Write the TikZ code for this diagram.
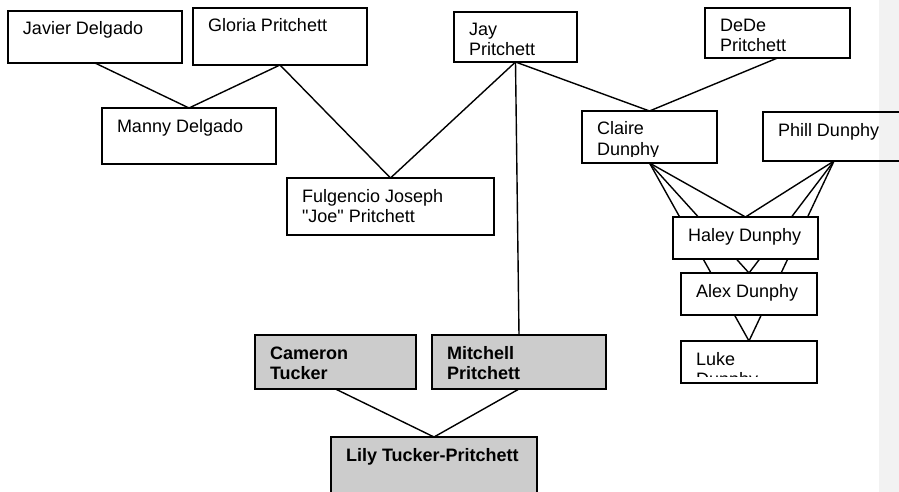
\documentclass[tikz,border=0pt]{standalone}
\usepackage{fontspec}
\setmainfont{Liberation Sans}[Ligatures=TeXOff]
\pgfdeclarelayer{bg}
\pgfsetlayers{bg,main}
\newcommand\pfont{\fontsize{18}{20}\selectfont}
\tikzset{
  person/.style={draw, line width=1.4pt, fill=white, inner sep=0pt, outer sep=0pt, anchor=north west},
  shaded/.style={fill=boxgrey},
  ptextline/.style={anchor=base west, inner sep=0pt, outer sep=0pt, minimum width=0pt, minimum height=0pt, draw=none, fill=none, font=\pfont, text=black},
  ptext/.style 2 args={path picture={
      \begin{scope}
        \clip ([yshift=6.5pt]path picture bounding box.south west) rectangle (path picture bounding box.north east);
        \node[ptextline] at ([xshift=15pt,yshift=-24pt]path picture bounding box.north west) {#1};
        \node[ptextline] at ([xshift=15pt,yshift=-44pt]path picture bounding box.north west) {#2};
      \end{scope}}},
  link/.style={line width=1.4pt, black},
}
\definecolor{boxgrey}{HTML}{CCCCCC}
\definecolor{panelgrey}{HTML}{F2F2F2}
\begin{document}
\begin{tikzpicture}[x=1pt, y=-1pt]
\useasboundingbox (0,0) rectangle (899,492);
% boxes
\node[person, minimum width=174pt, minimum height=52pt, ptext={Javier Delgado}{}] (javier) at (8,11) {};
\node[person, minimum width=174pt, minimum height=57pt, ptext={Gloria Pritchett}{}] (gloria) at (193,8) {};
\node[person, minimum width=123pt, minimum height=50pt, ptext={Jay}{Pritchett}] (jay) at (454,12) {};
\node[person, minimum width=145pt, minimum height=50pt, ptext={DeDe}{Pritchett}] (dede) at (705,8) {};
\node[person, minimum width=174pt, minimum height=56pt, ptext={Manny Delgado}{}] (manny) at (102,108) {};
\node[person, minimum width=135pt, minimum height=52pt, ptext={Claire}{Dunphy}] (claire) at (582,111) {};
\node[person, fill=none, minimum width=142pt, minimum height=49pt, ptext={Phill Dunphy}{}] (phill) at (763,112) {};
\node[person, minimum width=207pt, minimum height=57pt, ptext={Fulgencio Joseph}{"Joe" Pritchett}] (fulg) at (287,178) {};
\node[person, minimum width=145pt, minimum height=42pt, ptext={Haley Dunphy}{}] (haley) at (673,217) {};
\node[person, minimum width=136pt, minimum height=42pt, ptext={Alex Dunphy}{}] (alex) at (681,273) {};
\node[person, minimum width=136pt, minimum height=42pt, ptext={Luke}{Dunphy}] (luke) at (681,341) {};
\node[person, shaded, minimum width=161pt, minimum height=54pt, ptext={\bfseries Cameron}{\bfseries Tucker}] (cameron) at (255,335) {};
\node[person, shaded, minimum width=174pt, minimum height=54pt, ptext={\bfseries Mitchell}{\bfseries Pritchett}] (mitchell) at (432,335) {};
\node[person, shaded, minimum width=206pt, minimum height=70pt, ptext={\bfseries Lily Tucker-Pritchett}{}] (lily) at (331,437) {};
\begin{pgfonlayer}{bg}
  \fill[white] (0,0) rectangle (899,492);
  \fill[panelgrey] (879,0) rectangle (899,492);
  \draw[link] (javier.south) -- (manny.north);
  \draw[link] (gloria.south) -- (manny.north);
  \draw[link] (gloria.south) -- (fulg.north);
  \draw[link] (jay.south) -- (fulg.north);
  \draw[link] (jay.south) -- (claire.north);
  \draw[link] (dede.south) -- (claire.north);
  \draw[link] (jay.south) -- (mitchell.north);
  \draw[link] (claire.south) -- (haley.north);
  \draw[link] (claire.south) -- (alex.north);
  \draw[link] (claire.south) -- (luke.north);
  \draw[link] (phill.south) -- (haley.north);
  \draw[link] (phill.south) -- (alex.north);
  \draw[link] (phill.south) -- (luke.north);
  \draw[link] (cameron.south) -- (lily.north);
  \draw[link] (mitchell.south) -- (lily.north);
\end{pgfonlayer}
\end{tikzpicture}
\end{document}
